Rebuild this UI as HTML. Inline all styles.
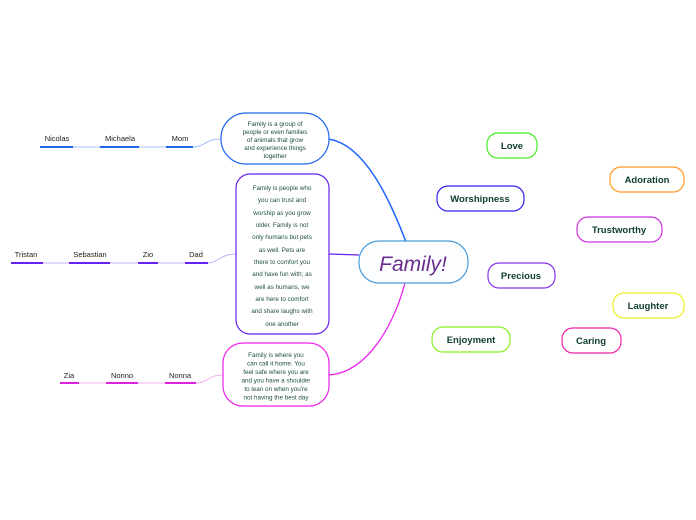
<!DOCTYPE html>
<html><head><meta charset="utf-8"><style>
html,body{margin:0;padding:0;background:#fff;}
svg{display:block;font-family:"Liberation Sans","DejaVu Sans",sans-serif;}
.t{fill:#1d4f3a;font-size:6.3px;text-anchor:middle;}
.n{fill:#222;font-size:7.5px;text-anchor:middle;}
.k{fill:#0f3d2e;font-size:9.5px;font-weight:bold;text-anchor:middle;}
</style></head><body>
<svg width="696" height="520" viewBox="0 0 696 520" xmlns="http://www.w3.org/2000/svg">
<!-- connectors -->
<path d="M329,139 C365,145 390,200 406,242" stroke="#2266ff" stroke-width="1.5" fill="none"/>
<path d="M329,254 L359,255" stroke="#6622ee" stroke-width="1.3" fill="none"/>
<path d="M329,375 C370,372 395,320 405,283" stroke="#ee22ee" stroke-width="1.3" fill="none"/>

<!-- top branch -->
<path d="M221,139 C205,139 205,147 193,147 L40,147" stroke="#88aaff" stroke-width="0.8" fill="none"/>
<g stroke="#2266ee" stroke-width="2"><line x1="40" y1="147" x2="73" y2="147"/><line x1="100" y1="147" x2="139" y2="147"/><line x1="166" y1="147" x2="193" y2="147"/></g>
<text class="n" x="57" y="141">Nicolas</text><text class="n" x="120" y="141">Michaela</text><text class="n" x="180" y="141">Mom</text>
<rect x="221" y="113" width="108" height="51" rx="25" fill="#fff" stroke="#2266ee" stroke-width="1.2"/>
<text class="t"><tspan x="275" y="126">Family is a group of</tspan><tspan x="275" y="134">people or even families</tspan><tspan x="275" y="142">of animals that grow</tspan><tspan x="275" y="150">and experience things</tspan><tspan x="275" y="158">together</tspan></text>

<!-- middle branch -->
<path d="M236,254 C220,254 218,263 208,263 L11,263" stroke="#bb99ff" stroke-width="0.8" fill="none"/>
<g stroke="#6622ee" stroke-width="2"><line x1="11" y1="263" x2="43" y2="263"/><line x1="69" y1="263" x2="110" y2="263"/><line x1="138" y1="263" x2="158" y2="263"/><line x1="185" y1="263" x2="208" y2="263"/></g>
<text class="n" x="26" y="257">Tristan</text><text class="n" x="90" y="257">Sebastian</text><text class="n" x="148" y="257">Zio</text><text class="n" x="196" y="257">Dad</text>
<rect x="236" y="174" width="93" height="160" rx="14" fill="#fff" stroke="#6622ee" stroke-width="1.2"/>
<text class="t"><tspan x="282" y="190">Family is people who</tspan><tspan x="282" y="202">you can trust and</tspan><tspan x="282" y="215">worship as you grow</tspan><tspan x="282" y="227">older. Family is not</tspan><tspan x="282" y="239">only humans but pets</tspan><tspan x="282" y="252">as well.  Pets are</tspan><tspan x="282" y="264">there to comfort you</tspan><tspan x="282" y="276">and have fun with; as</tspan><tspan x="282" y="289">well as humans, we</tspan><tspan x="282" y="301">are here to comfort</tspan><tspan x="282" y="313">and share laughs with</tspan><tspan x="282" y="326">one another</tspan></text>

<!-- bottom branch -->
<path d="M223,375 C208,375 208,383 196,383 L60,383" stroke="#ee99ee" stroke-width="0.8" fill="none"/>
<g stroke="#dd22dd" stroke-width="2"><line x1="60" y1="383" x2="79" y2="383"/><line x1="106" y1="383" x2="138" y2="383"/><line x1="165" y1="383" x2="196" y2="383"/></g>
<text class="n" x="69" y="378">Zia</text><text class="n" x="122" y="378">Nonno</text><text class="n" x="180" y="378">Nonna</text>
<rect x="223" y="343" width="106" height="63" rx="20" fill="#fff" stroke="#ee22ee" stroke-width="1.2"/>
<text class="t"><tspan x="276" y="357">Family is where you</tspan><tspan x="276" y="365.5">can call it home.  You</tspan><tspan x="276" y="374">feel safe where you are</tspan><tspan x="276" y="382.5">and you have a shoulder</tspan><tspan x="276" y="391">to lean on when you're</tspan><tspan x="276" y="399.5">not having the best day</tspan></text>

<!-- central -->
<rect x="359" y="241" width="109" height="42" rx="20" fill="#fbfdff" stroke="#4a9ad8" stroke-width="1.2"/>
<text x="413" y="271" text-anchor="middle" font-size="21" font-style="italic" fill="#6a2e8e">Family!</text>

<!-- right bubbles -->
<g fill="#fff" stroke-width="1.2">
<rect x="487" y="133" width="50" height="25" rx="11" stroke="#44ee22"/>
<rect x="610" y="167" width="74" height="25" rx="11" stroke="#ff9922"/>
<rect x="437" y="186" width="87" height="25" rx="11" stroke="#3322ee"/>
<rect x="577" y="217" width="85" height="25" rx="11" stroke="#cc33dd"/>
<rect x="488" y="263" width="67" height="25" rx="11" stroke="#8833ee"/>
<rect x="613" y="293" width="71" height="25" rx="11" stroke="#eeee22"/>
<rect x="432" y="327" width="78" height="25" rx="11" stroke="#88ee22"/>
<rect x="562" y="328" width="59" height="25" rx="11" stroke="#ee22aa"/>
</g>
<text class="k" x="512" y="149">Love</text>
<text class="k" x="647" y="183">Adoration</text>
<text class="k" x="480" y="202">Worshipness</text>
<text class="k" x="619" y="233">Trustworthy</text>
<text class="k" x="521" y="279">Precious</text>
<text class="k" x="648" y="309">Laughter</text>
<text class="k" x="471" y="343">Enjoyment</text>
<text class="k" x="591" y="344">Caring</text>
</svg>
</body></html>
